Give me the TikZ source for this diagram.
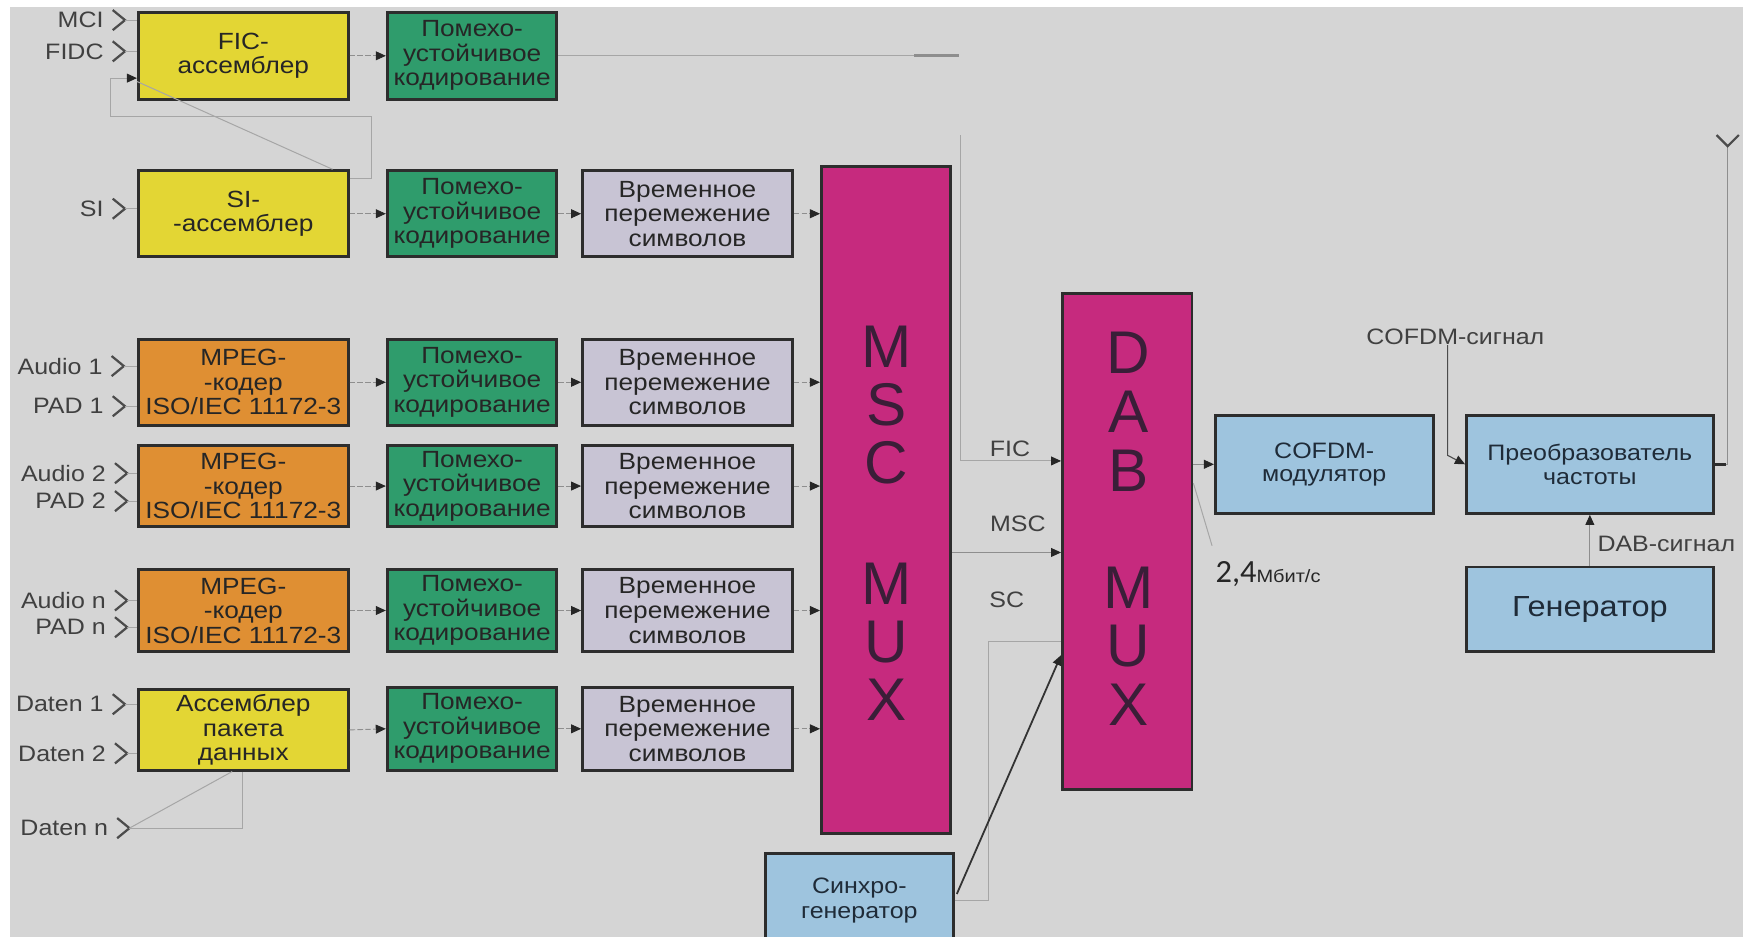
\documentclass[tikz,border=0pt]{standalone}
\usepackage{fontspec}
\setmainfont{Liberation Sans}[FakeStretch=1.12]
\newfontfamily\plainsans{Liberation Sans}
\newfontfamily\calib{Carlito}
\usetikzlibrary{arrows.meta,calc}
\definecolor{bggray}{HTML}{D5D5D5}
\definecolor{cyel}{HTML}{E3D634}
\definecolor{corange}{HTML}{DF8F33}
\definecolor{cgreen}{HTML}{2F9C6C}
\definecolor{clilac}{HTML}{C8C4D4}
\definecolor{cmag}{HTML}{C62A7E}
\definecolor{cblue}{HTML}{9EC4DE}
\definecolor{boxline}{HTML}{2D2D2D}
\definecolor{txt}{HTML}{262626}
\definecolor{bluetxt}{HTML}{1F2B38}
\definecolor{muxtxt}{HTML}{3A1E38}
\definecolor{linegray}{HTML}{8E8E8E}
\definecolor{lightline}{HTML}{A6A6A6}
\tikzset{
  blk/.style={draw=boxline,line width=2.6pt,align=center,inner sep=0pt,text=txt,
    font=\fontsize{21}{22}\selectfont},
  yelbox/.style={blk,fill=cyel,minimum width=188pt},
  orbox/.style={blk,fill=corange,minimum width=188pt},
  grbox/.style={blk,fill=cgreen,minimum width=152pt},
  lilbox/.style={blk,fill=clilac,minimum width=188pt},
  magbox/.style={blk,fill=cmag,minimum width=116pt},
  blubox/.style={blk,fill=cblue,text=bluetxt,font=\fontsize{20}{21}\selectfont},
  muxletters/.style={align=center,text=muxtxt,inner sep=0pt,font=\plainsans\fontsize{54}{52}\selectfont},
  inlab/.style={text=black!75,inner sep=0pt,font=\fontsize{20}{20}\selectfont},
  lab/.style={text=black!75,inner sep=0pt,font=\fontsize{20}{20}\selectfont},
  chev/.style={draw=black!70,line width=2pt,line join=miter},
  tip/.style={-{Triangle[length=9pt,width=8pt,color=black!85]}},
  conn/.style={draw=linegray,line width=0.8pt,dash pattern=on 5pt off 2pt,tip},
  flow/.style={draw=linegray,line width=0.8pt,tip},
  thinline/.style={draw=lightline,line width=0.9pt},
  darkarrow/.style={draw=black!80,line width=1.6pt,tip},
}
\newcommand{\inport}[5]{% name, y, text, target, chevron x
  \node[inlab,anchor=east] (l#1) at (#5-8,#2) {#3};
  \coordinate (c#1) at (#5+11,#2);
  \draw[chev] (#5,#2-9) -- (c#1) -- (#5,#2+9);
  \draw[thinline] (c#1) -- (c#1 -| #4.west);
}
\begin{document}
\begin{tikzpicture}[x=1pt,y=-1pt]
\useasboundingbox (0,0) rectangle (1568,839);
\clip (0,0) rectangle (1568,839);
\fill[bggray] (9,6) rectangle (1562,845);

% column A
\node[yelbox,minimum height=78pt] (ficA) at (218,50) {FIC-\\ассемблер};
\node[yelbox,minimum height=77pt] (siA) at (218,191.5) {SI-\\-ассемблер};
\node[orbox,minimum height=77pt] (m1A) at (218,342.5) {MPEG-\\-кодер\\ISO/IEC 11172-3};
\node[orbox,minimum height=73pt] (m2A) at (218,435.5) {MPEG-\\-кодер\\ISO/IEC 11172-3};
\node[orbox,minimum height=74pt] (mnA) at (218,547) {MPEG-\\-кодер\\ISO/IEC 11172-3};
\node[yelbox,minimum height=72pt] (dataA) at (218,654) {Ассемблер\\пакета\\данных};

% column B
\node[grbox,minimum height=78pt] (ficB) at (423,50) {Помехо-\\устойчивое\\кодирование};
\node[grbox,minimum height=77pt] (siB) at (423,191.5) {Помехо-\\устойчивое\\кодирование};
\node[grbox,minimum height=77pt] (m1B) at (423,342.5) {Помехо-\\устойчивое\\кодирование};
\node[grbox,minimum height=73pt] (m2B) at (423,435.5) {Помехо-\\устойчивое\\кодирование};
\node[grbox,minimum height=74pt] (mnB) at (423,547) {Помехо-\\устойчивое\\кодирование};
\node[grbox,minimum height=74pt] (dataB) at (423,653) {Помехо-\\устойчивое\\кодирование};

% column C
\node[lilbox,minimum height=77pt] (siC) at (616,191.5) {Временное\\перемежение\\символов};
\node[lilbox,minimum height=77pt] (m1C) at (616,342.5) {Временное\\перемежение\\символов};
\node[lilbox,minimum height=73pt] (m2C) at (616,435.5) {Временное\\перемежение\\символов};
\node[lilbox,minimum height=74pt] (mnC) at (616,547) {Временное\\перемежение\\символов};
\node[lilbox,minimum height=74pt] (dataC) at (616,653) {Временное\\перемежение\\символов};

% multiplexers
\node[magbox,minimum height=598pt] (msc) at (794,448) {};
\node[muxletters] (mscT) at (794,469) {M\\S\\C\\[56pt]M\\U\\X};
\node[magbox,minimum height=444pt] (dab) at (1010,485) {};
\node[muxletters,font=\plainsans\fontsize{54}{52.5}\selectfont] (dabT) at (1011,474) {D\\A\\B\\[52.5pt]M\\U\\X};

% right blocks
\node[blubox,minimum width=195pt,minimum height=88pt] (cofdm) at (1186.5,416) {COFDM-\\модулятор};
\node[blubox,minimum width=221pt,minimum height=88pt] (conv) at (1424.5,416) {Преобразователь\\частоты};
\node[blubox,minimum width=221pt,minimum height=76pt,font=\fontsize{26}{26}\selectfont] (gen) at (1424.5,546) {Генератор};
\node[blubox,minimum width=168pt,minimum height=84pt,font=\fontsize{20}{22}\selectfont] (sync) at (770,807) {Синхро-\\генератор};

% inputs
\inport{MCI}{18}{MCI}{ficA}{101}
\inport{FIDC}{46}{FIDC}{ficA}{101}
\inport{SI}{187}{SI}{siA}{101}
\inport{Aa}{328}{Audio 1}{m1A}{100}
\inport{Pa}{364}{PAD 1}{m1A}{101}
\inport{Ab}{424}{Audio 2}{m2A}{103}
\inport{Pb}{449}{PAD 2}{m2A}{103}
\inport{An}{538}{Audio n}{mnA}{103}
\inport{Pn}{562}{PAD n}{mnA}{103}
\inport{Da}{631}{Daten 1}{dataA}{101}
\inport{Db}{675}{Daten 2}{dataA}{103}
\node[inlab,anchor=east] (lDn) at (97,742) {Daten n};
\coordinate (cDn) at (116,742);
\draw[chev] (105,733) -- (cDn) -- (105,751);
\draw[thinline] (cDn) -- (217,742) -- (dataA.south -| 217,0);
\draw[thinline] (cDn) -- (dataA.south -| 208,0);

% FIC feedback
\draw[thinline,tip] (siA.east |- 0,160) -- (333,160) -- (333,104) -- (99,104) -- (99,70) -- (ficA.west |- 0,70);
\draw[thinline] (ficA.west |- 0,73) -- (siA.north -| 298,0);

% column connections
\foreach \r in {fic,si,m1,m2,mn,data}{
  \draw[conn] (\r A.east) -- (\r B.west);
}
\foreach \r in {si,m1,m2,mn,data}{
  \draw[conn] (\r B.east) -- (\r C.west);
  \draw[conn] (\r C.east) -- (\r C.east -| msc.west);
}

% FIC path to DAB
\draw[thinline] (ficB.east) -- (ficB.east -| 859,0);
\draw[linegray,line width=2.6pt] (ficB.east -| 819,0) -- (ficB.east -| 859,0);
\coordinate (ficUp) at (861,121);
\draw[thinline,tip] (ficUp) -- (861,413) -- (dab.west |- 0,413);
\node[lab] (lfic) at (905,402) {FIC};

% MSC path
\draw[flow] (msc.east |- 0,495) -- (dab.west |- 0,495);
\node[lab] (lmsc) at (912,469) {MSC};

% SC path
\node[lab] (lsc) at (902,537) {SC};
\draw[thinline] (sync.east) -- (sync.east -| 886,0) -- (886,575) -- (dab.west |- 945,575);
\draw[darkarrow] ($(sync.east)+(2,-6)$) -- (dab.west |- 0,587);

% DAB -> COFDM
\draw[flow] (dab.east |- cofdm.west) -- (cofdm.west);
\draw[thinline] (dab.east |- 0,433) -- (1086,489);
\node[inner sep=0pt,text=black!85,anchor=west] (rate) at (1089,514) {{\calib\fontsize{29}{29}\selectfont 2,4}{\fontsize{16}{16}\selectfont Мбит/с}};

% COFDM signal
\node[lab] (lcof) at (1304,302) {COFDM-сигнал};
\draw[draw=black!70,line width=1pt,tip] (lcof.south -| 1297,0) -- (1297,408) -- (conv.west);

% generator
\draw[flow] (gen.north) -- (conv.south);
\node[lab] (ldab) at (1493,487) {DAB-сигнал};

% output to antenna
\coordinate (ant) at (1548,131);
\draw[draw=linegray,line width=1.4pt] (conv.east) -- (conv.east -| ant) -- (ant);
\draw[draw=boxline,line width=2.6pt] (conv.east) -- ++(10,0);
\draw[chev] (1538,121) -- (ant) -- (1558,121);
\end{tikzpicture}
\end{document}
